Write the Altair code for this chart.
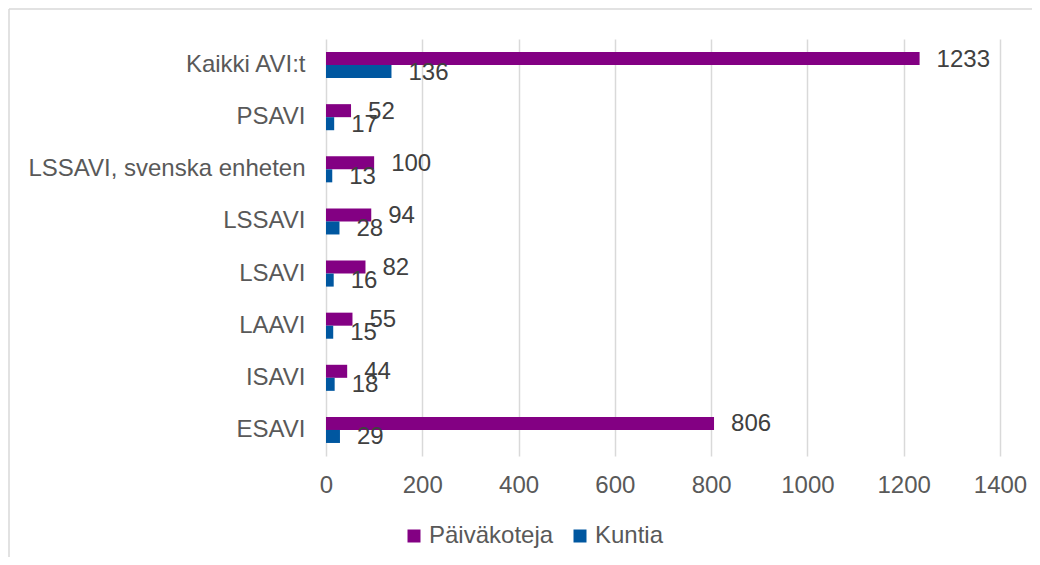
import altair as alt
import pandas as pd

categories = ["Kaikki AVI:t", "PSAVI", "LSSAVI, svenska enheten", "LSSAVI",
              "LSAVI", "LAAVI", "ISAVI", "ESAVI"]
paivakoteja = [1233, 52, 100, 94, 82, 55, 44, 806]
kuntia = [136, 17, 13, 28, 16, 15, 18, 29]
series = ["Päiväkoteja", "Kuntia"]
colors = ["#830083", "#0057A0"]
x_ticks = [0, 200, 400, 600, 800, 1000, 1200, 1400]

rows = []
for c, p, k in zip(categories, paivakoteja, kuntia):
    rows.append({"cat": c, "series": series[0], "value": p})
    rows.append({"cat": c, "series": series[1], "value": k})
df = pd.DataFrame(rows)

FONT = "Arial, Liberation Sans, sans-serif"
FS = 24

y_enc = alt.Y("cat:N", sort=categories,
              scale=alt.Scale(paddingInner=0.5, paddingOuter=0.25),
              axis=alt.Axis(title=None, ticks=False, domain=False, labelFontSize=FS,
                            labelColor="#595959", labelPadding=21, labelFont=FONT,
                            labelLimit=400))
yoff = alt.YOffset("series:N", sort=series, scale=alt.Scale(domain=series))

bars = alt.Chart(df).mark_bar().encode(
    x=alt.X("value:Q", scale=alt.Scale(domain=[0, 1400], nice=False),
            axis=alt.Axis(title=None, values=x_ticks, format="d", ticks=False, domain=False,
                          grid=True, gridColor="#d9d9d9", gridWidth=1.5,
                          labelFontSize=FS, labelColor="#595959", labelPadding=17,
                          labelFlush=False, labelOverlap=False, labelFont=FONT)),
    y=y_enc,
    yOffset=yoff,
    color=alt.Color("series:N", sort=series,
                    scale=alt.Scale(domain=series, range=colors),
                    legend=alt.Legend(title=None, orient="none", direction="horizontal",
                                      legendX=76, legendY=485, symbolType="square",
                                      symbolSize=169, symbolStrokeWidth=0,
                                      labelFontSize=FS, labelColor="#595959",
                                      labelFont=FONT, labelOffset=3, columnPadding=14)),
)

labels = alt.Chart(df).mark_text(align="left", baseline="middle", dx=17, dy=1,
                                 fontSize=FS, color="#404040", font=FONT).encode(
    x="value:Q",
    y=alt.Y("cat:N", sort=categories),
    yOffset=yoff,
    text="value:Q",
)

border_top = alt.Chart(alt.Data(values=[{}])).mark_rule(color="#d9d9d9", strokeWidth=1.5).encode(
    x=alt.value(-317), x2=alt.value(720), y=alt.value(-30))
border_left = alt.Chart(alt.Data(values=[{}])).mark_rule(color="#d9d9d9", strokeWidth=1.5).encode(
    x=alt.value(-317), y=alt.value(-30), y2=alt.value(530))

chart = alt.layer(border_top, border_left, bars, labels).properties(
    width=674, height=417,
    padding={"left": 318, "top": 31, "right": 32, "bottom": 101},
    autosize=alt.AutoSizeParams(type="none"),
    background="white",
).configure_view(stroke=None)

chart.save("out.html", embed_options={"renderer": "svg", "actions": False})
